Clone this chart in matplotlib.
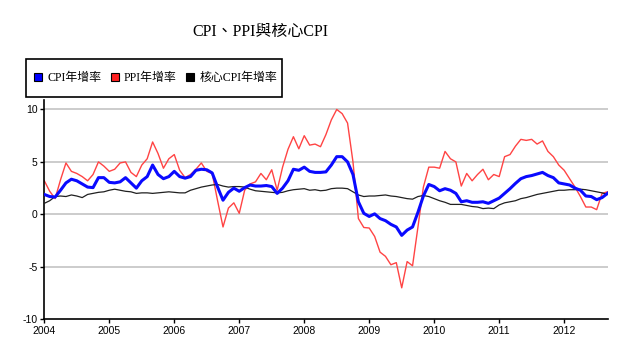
"""CPI, PPI and core CPI year-on-year growth, Taiwan 2004-2012."""

import numpy as np
import matplotlib
matplotlib.use("Agg")
import matplotlib.pyplot as plt
from matplotlib.lines import Line2D
from matplotlib.patches import Rectangle

plt.rcParams['axes.unicode_minus'] = False

# Monthly values, Jan 2004 - Sep 2012
cpi = [1.9, 1.7, 1.65, 2.3, 3.0, 3.35, 3.2, 2.9, 2.6, 2.55, 3.5, 3.5,
       3.05, 3.0, 3.1, 3.5, 3.0, 2.5, 3.2, 3.6, 4.7, 3.8, 3.4, 3.6,
       4.1, 3.6, 3.45, 3.6, 4.2, 4.3, 4.25, 3.95, 2.6, 1.35, 2.1, 2.5,
       2.2, 2.55, 2.8, 2.7, 2.7, 2.75, 2.65, 2.0, 2.5, 3.2, 4.3, 4.2,
       4.5, 4.1, 4.0, 4.0, 4.05, 4.7, 5.5, 5.5, 5.0, 3.8, 1.2, 0.1,
       -0.2, 0.05, -0.4, -0.6, -0.95, -1.2, -2.0, -1.5, -1.2, 0.2, 1.75, 2.85,
       2.65, 2.25, 2.45, 2.3, 2.0, 1.2, 1.3, 1.15, 1.15, 1.2, 1.05, 1.3,
       1.55, 2.0, 2.45, 2.95, 3.4, 3.6, 3.7, 3.85, 4.0, 3.7, 3.5, 3.0,
       2.9, 2.8, 2.5, 2.3, 1.75, 1.7, 1.4, 1.6, 2.0]

ppi = [3.2, 2.2, 1.5, 3.3, 4.9, 4.1, 3.9, 3.6, 3.2, 3.8, 5.0, 4.6,
       4.1, 4.3, 4.9, 5.0, 4.0, 3.6, 4.7, 5.3, 6.9, 5.8, 4.4, 5.3,
       5.7, 4.2, 3.5, 3.8, 4.3, 4.9, 4.1, 3.9, 1.3, -1.2, 0.6, 1.1,
       0.1, 2.3, 2.9, 3.1, 3.9, 3.3, 4.25, 2.3, 4.5, 6.2, 7.4, 6.25,
       7.5, 6.6, 6.7, 6.45, 7.6, 9.0, 10.0, 9.6, 8.7, 5.0, -0.4, -1.25,
       -1.3, -2.1, -3.6, -4.0, -4.8, -4.6, -7.0, -4.5, -4.9, -1.2, 2.6, 4.5,
       4.5, 4.4, 6.0, 5.3, 5.0, 2.7, 3.9, 3.2, 3.8, 4.3, 3.3, 3.8,
       3.6, 5.5, 5.7, 6.5, 7.15, 7.05, 7.15, 6.7, 7.0, 6.0, 5.5, 4.7,
       4.2, 3.4, 2.6, 1.7, 0.7, 0.7, 0.45, 2.0, 2.15]

core_cpi = [1.05, 1.3, 1.7, 1.75, 1.7, 1.85, 1.75, 1.6, 1.9, 2.0, 2.1, 2.15,
            2.3, 2.4, 2.3, 2.2, 2.15, 2.0, 2.05, 2.05, 2.0, 2.05, 2.1, 2.15,
            2.1, 2.05, 2.05, 2.3, 2.45, 2.6, 2.7, 2.8, 2.85, 2.7, 2.6, 2.65,
            2.65, 2.6, 2.4, 2.25, 2.2, 2.15, 2.1, 2.05, 2.1, 2.25, 2.35, 2.4,
            2.45, 2.3, 2.35, 2.25, 2.3, 2.45, 2.5, 2.5, 2.45, 2.15, 1.85, 1.7,
            1.75, 1.75, 1.8, 1.85, 1.75, 1.7, 1.6, 1.5, 1.45, 1.7, 1.8, 1.7,
            1.5, 1.3, 1.15, 0.95, 0.95, 0.95, 0.85, 0.75, 0.7, 0.55, 0.6, 0.55,
            0.9, 1.1, 1.2, 1.3, 1.5, 1.6, 1.75, 1.9, 2.0, 2.1, 2.2, 2.3,
            2.3, 2.35, 2.35, 2.4, 2.35, 2.25, 2.15, 2.05, 1.9]

labels = ['CPI年增率', 'PPI年增率', '核心CPI年增率']
year_ticks = list(range(2004, 2013))
y_ticks = [-10, -5, 0, 5, 10]

# decimal year for each month
t = 2004 + np.arange(len(cpi)) / 12.0

serif_cjk = ['Liberation Serif', 'Noto Sans CJK TC']

fig = plt.figure(figsize=(6.4, 3.55), dpi=100)
ax = fig.add_axes([44.3 / 640, 1 - 319.3 / 355,
                   (607.5 - 44.3) / 640, (319.3 - 100) / 355])

for yv in y_ticks[1:]:
    ax.axhline(yv, color='#c4c4c4', linewidth=1.2, zorder=0)

ax.plot(t, ppi, color='#ff4444', linewidth=1.0, zorder=2)
ax.plot(t, core_cpi, color='#202020', linewidth=0.9, zorder=3)
ax.plot(t, cpi, color='#0a0aff', linewidth=2.2, zorder=4)

ax.set_xlim(t[0], t[-1])
ax.set_ylim(-10, 10.9)
ax.set_xticks(year_ticks)
ax.set_xticklabels([str(y) for y in year_ticks])
ax.set_yticks(y_ticks)
ax.set_yticklabels([str(y) for y in y_ticks])
ax.tick_params(axis='both', direction='out', length=3, width=1,
               labelsize=7.5, pad=2)
for lab in ax.get_xticklabels() + ax.get_yticklabels():
    lab.set_family(['Liberation Sans', 'DejaVu Sans'])

for side in ['top', 'right']:
    ax.spines[side].set_visible(False)
ax.spines['left'].set_linewidth(1.2)
ax.spines['bottom'].set_linewidth(1.2)

fig.text(260 / 640, 1 - 32 / 355, 'CPI、PPI與核心CPI', ha='center', va='center',
         fontsize=11.5, family=serif_cjk)

# legend frame drawn by hand so its padding matches the picture
fig.patches.append(Rectangle((26 / 640, 1 - 97 / 355), 256 / 640, 38 / 355,
                             transform=fig.transFigure, fill=False,
                             edgecolor='black', linewidth=1.2))
handles = [Line2D([], [], marker='s', linestyle='none', markersize=6,
                  markerfacecolor=c, markeredgecolor='black', markeredgewidth=0.8)
           for c in ['#0000ff', '#ff2020', '#000000']]
fig.legend(handles, labels, loc='center left', ncol=3,
           bbox_to_anchor=(34 / 640, 1 - 78 / 355),
           prop={'family': serif_cjk, 'size': 8.6},
           frameon=False, handlelength=0.7, handletextpad=0.4,
           columnspacing=0.8, borderpad=0, borderaxespad=0)

fig.savefig('out.png', dpi=100)
